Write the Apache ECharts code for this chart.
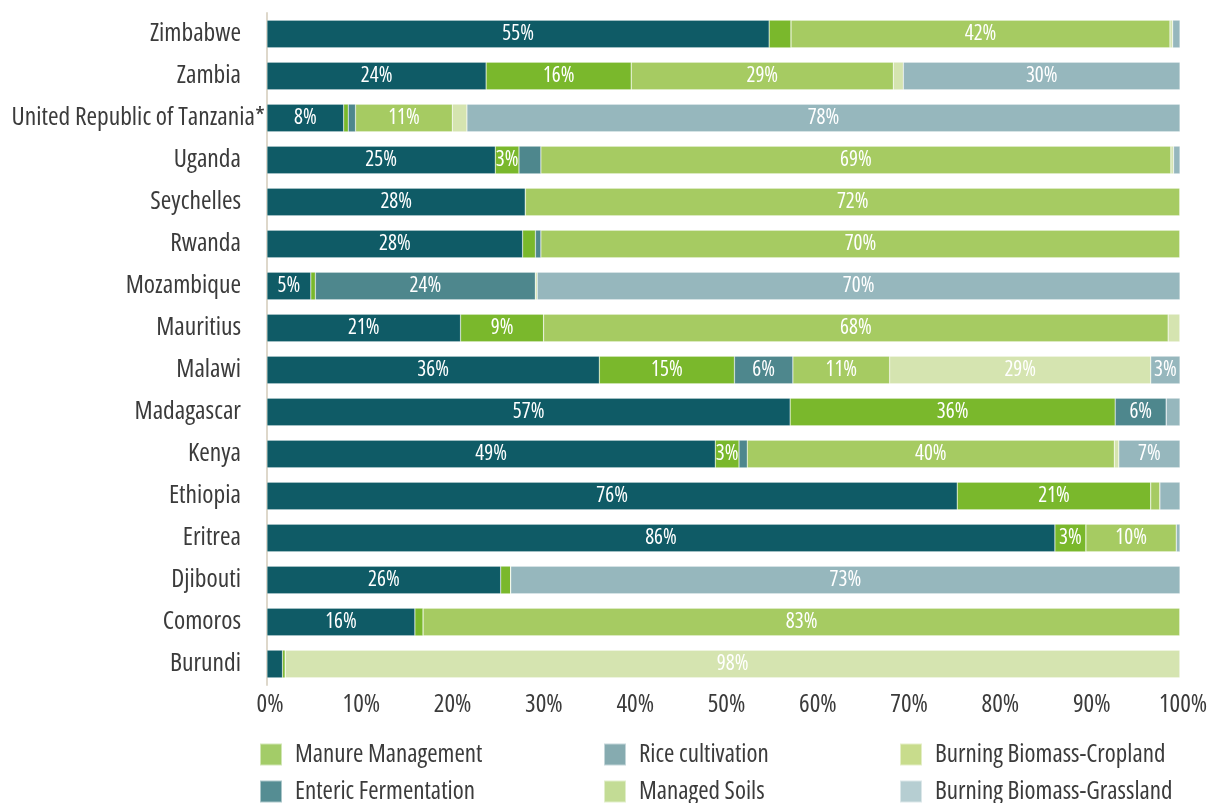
<!DOCTYPE html>
<html><head><meta charset="utf-8">
<script src="https://cdn.jsdelivr.net/npm/echarts@6/dist/echarts.min.js"></script>
<style>html,body{margin:0;padding:0;background:#fff}#c{width:1216px;height:803px}</style>
</head><body><div id="c"></div>
<script>
const categories = ['Zimbabwe','Zambia','United Republic of Tanzania*','Uganda','Seychelles','Rwanda','Mozambique','Mauritius','Malawi','Madagascar','Kenya','Ethiopia','Eritrea','Djibouti','Comoros','Burundi'];
const entericFermentation = [55, 24, 8.4, 25, 28.3, 28, 4.8, 21.2, 36.4, 57.3, 49.1, 75.6, 86.3, 25.6, 16.2, 1.7];
const manureManagement   = [2.4, 15.9, 0.5, 2.6, 0, 1.4, 0.5, 9.1, 14.8, 35.6, 2.6, 21.2, 3.4, 1.1, 0.9, 0.3];
const riceCultivation    = [0, 0, 0.8, 2.4, 0, 0.6, 24.1, 0, 6.4, 5.6, 0.9, 0, 0, 0, 0, 0];
const managedSoils       = [41.5, 28.7, 10.6, 69.0, 71.7, 70.0, 0, 68.4, 10.6, 0, 40.2, 1.0, 9.9, 0, 82.9, 0];
const burningCropland    = [0.3, 1.1, 1.6, 0.3, 0, 0, 0.2, 1.3, 28.6, 0, 0.5, 0, 0, 0, 0, 98.0];
const burningGrassland   = [0.8, 30.3, 78.1, 0.7, 0, 0, 70.4, 0, 3.2, 1.5, 6.7, 2.2, 0.4, 73.3, 0, 0];
const xTicks = [0,10,20,30,40,50,60,70,80,90,100];

const FONT = "'Open Sans','Roboto Condensed','DejaVu Sans Condensed',sans-serif";
const STRETCH = 'condensed';
const TXT = '#3b3b3b';

const seriesDefs = [
  {name:'Enteric Fermentation', data:entericFermentation, color:'#0f5b66'},
  {name:'Manure Management', data:manureManagement, color:'#7ab82c'},
  {name:'Rice cultivation', data:riceCultivation, color:'#4e878d'},
  {name:'Managed Soils', data:managedSoils, color:'#a6cb62'},
  {name:'Burning Biomass-Cropland', data:burningCropland, color:'#d5e4b0'},
  {name:'Burning Biomass-Grassland', data:burningGrassland, color:'#96b7bd'}
];
const legendColors = {
  'Manure Management':'#a3cc68','Enteric Fermentation':'#558d93',
  'Rice cultivation':'#86abb0','Managed Soils':'#c3dc95',
  'Burning Biomass-Cropland':'#c8dc8c','Burning Biomass-Grassland':'#b6ced2'
};
const legendLayout = [
  ['Manure Management', 259, 742], ['Enteric Fermentation', 259, 779],
  ['Rice cultivation', 603, 742], ['Managed Soils', 603, 779],
  ['Burning Biomass-Cropland', 899, 742], ['Burning Biomass-Grassland', 899, 779]
];
const legends = legendLayout.map(([n, l, t]) => ({
  show:true, left:l, top:t, padding:0, itemWidth:22, itemHeight:22, icon:'rect', selectedMode:false,
  textStyle:{fontFamily:FONT, fontStyle:STRETCH, fontSize:25, color:TXT, padding:[0,0,0,8]},
  data:[{name:n, itemStyle:{color:legendColors[n]}}]
}));

const chart = echarts.init(document.getElementById('c'));
chart.setOption({
  animation:false,
  grid:{left:267, right:36, top:13, bottom:118, containLabel:false, outerBoundsMode:'none'},
  legend:legends,
  xAxis:{type:'value', min:0, max:100, interval:10,
    axisLine:{show:false}, axisTick:{show:false}, splitLine:{show:false},
    axisLabel:{fontFamily:FONT, fontStyle:STRETCH, fontSize:25, color:TXT, margin:7, padding:[0,0,0,6],
      formatter:v=>v+'%'}
  },
  yAxis:{type:'category', data:categories, inverse:true,
    axisLine:{show:true, lineStyle:{color:'#ded8cb', width:2}},
    axisTick:{show:false},
    axisLabel:{margin:2, formatter:v=> v.endsWith('*') ? '{t|'+v+'}' : '{n|'+v+'}',
      rich:{
        n:{fontFamily:FONT, fontStyle:STRETCH, fontSize:25.5, color:TXT, padding:[0,24,0,0]},
        t:{fontFamily:FONT, fontStyle:STRETCH, fontSize:25.5, color:TXT}
      }}
  },
  series: seriesDefs.map(s=>({
    name:s.name, type:'bar', stack:'total', barWidth:'66%', data:s.data,
    itemStyle:{color:s.color, borderColor:'rgba(255,255,255,0.5)', borderWidth:0.5},
    label:{show:true, position:'inside', color:'#fff', fontFamily:FONT, fontStyle:STRETCH, fontSize:21,
      formatter:p=> p.value>=2.5 ? Math.round(p.value)+'%' : ''}
  }))
});
</script></body></html>
